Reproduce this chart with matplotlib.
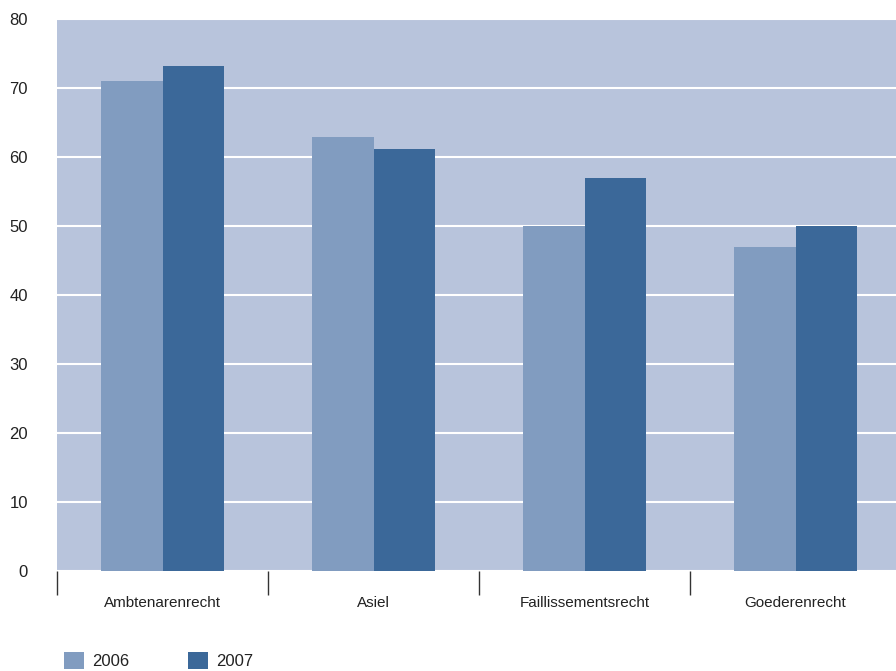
import matplotlib.pyplot as plt
from matplotlib.patches import Patch
import numpy as np

# Daten
categories = ['Ambtenarenrecht', 'Asiel', 'Faillissementsrecht', 'Goederenrecht']
years = ['2006', '2007']
values_2006 = [71.0, 62.9, 50.0, 47.0]
values_2007 = [73.2, 61.2, 57.0, 50.0]
y_ticks = [0, 10, 20, 30, 40, 50, 60, 70, 80]

col_bg = '#b8c4dc'
col_2006 = '#819cc0'
col_2007 = '#3b6899'
col_text = '#222222'

plt.rcParams['font.family'] = ['Liberation Sans Narrow', 'Liberation Sans', 'DejaVu Sans']

fig = plt.figure(figsize=(8.96, 6.71), dpi=100)
ax = fig.add_axes([57/896, 100/671, 1 - 57/896, 552/671])
ax.set_facecolor(col_bg)

x = np.arange(len(categories))
w = 0.29
ax.bar(x - w/2, values_2006, width=w, color=col_2006, zorder=3)
ax.bar(x + w/2, values_2007, width=w, color=col_2007, zorder=3)

# Gitterlinien
ax.set_ylim(0, 80)
ax.set_yticks(y_ticks)
ax.yaxis.grid(True, color='white', lw=1.5, zorder=1)
ax.set_axisbelow(True)
ax.tick_params(axis='y', length=0, pad=21, labelsize=12, labelcolor=col_text)

# x-Achse: Striche an Kategoriegrenzen, Beschriftung mittig
ax.set_xlim(-0.5, -0.5 + 839/211)
ax.set_xticks(x - 0.5)
ax.set_xticklabels([])
ax.set_xticks(x, minor=True)
ax.set_xticklabels(categories, minor=True)
ax.tick_params(axis='x', which='major', length=17, width=1, color='#333333', direction='out')
ax.tick_params(axis='x', which='minor', length=0, pad=18, labelsize=11, labelcolor=col_text)

for s in ax.spines.values():
    s.set_visible(False)

handles = [Patch(facecolor=col_2006, label=years[0]),
           Patch(facecolor=col_2007, label=years[1])]
fig.legend(handles=handles, loc='lower left', bbox_to_anchor=(49/896, -13/671),
           ncol=2, frameon=False, fontsize=12, handlelength=1.2, handleheight=1.2,
           handletextpad=0.5, columnspacing=3.5, labelcolor=col_text)

fig.savefig('out.png', dpi=100, facecolor='white')
